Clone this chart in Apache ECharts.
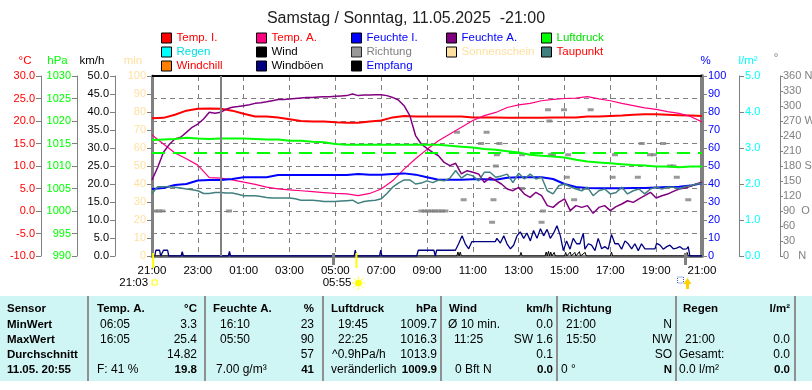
<!DOCTYPE html>
<html><head><meta charset="utf-8">
<script src="https://cdn.jsdelivr.net/npm/echarts@6/dist/echarts.min.js"></script>
<style>html,body{margin:0;padding:0;background:#fff}#c{width:812px;height:390px}</style>
</head><body><div id="c"></div>
<script>
const FONT = "'Liberation Sans', Arial, sans-serif";

// ---------- DATA ----------
const titleText = 'Samstag / Sonntag, 11.05.2025  -21:00';
const xTickLabels = ['21:00','23:00','01:00','03:00','05:00','07:00','09:00','11:00','13:00','15:00','17:00','19:00','21:00'];
const directionLabels = ['0   N','30','60','90  O','120','150','180 S','210','240','270 W','300','330','360 N'];
const hours30 = Array.from({length:49},(_,i)=>i*0.5);   // time grid, hours since 21:00
const hours15 = Array.from({length:97},(_,i)=>i*0.25);

const tempIn = [20.6,20.7,21.4,22.3,22.7,22.8,22.7,22.3,21.6,21.0,21.0,20.8,20.4,20.0,19.9,19.9,19.7,19.6,19.6,19.9,20.1,20.8,21.1,21.0,21.0,21.0,21.0,21.0,20.8,20.8,20.8,20.7,20.7,20.7,20.7,20.8,20.8,20.8,21.0,21.0,21.1,21.2,21.4,21.5,21.5,21.4,21.3,21.2,21.1];
const tempOut = [16.9,14.9,12.9,11.6,10.2,7.4,7.3,6.9,6.4,5.9,5.3,4.9,4.7,4.5,4.3,4.1,3.9,3.8,3.4,3.9,4.9,6.7,9.3,11.6,13.7,15.6,17.1,18.6,20.1,21.2,21.9,23.0,23.6,23.9,24.5,24.8,25.0,25.1,25.4,24.9,24.5,23.9,23.4,22.9,22.6,22.1,21.7,21.0,19.8];
const humIn = [37.2,37.8,39.4,40.0,41.9,42.2,42.2,42.8,43.7,43.7,43.7,45.0,45.0,45.0,45.0,45.0,45.0,45.0,45.6,45.2,45.2,45.6,45.9,45.2,43.7,42.4,42.4,42.4,42.6,42.6,42.4,43.5,43.7,43.7,43.7,42.8,40.0,38.3,37.8,37.6,37.6,37.6,37.8,37.8,38.1,38.3,38.5,39.1,40.4];
const humOut = [42.2,49.3,57.6,61.9,65.0,66.0,68.7,71.5,73.3,76.1,79.8,79.3,79.8,81.7,82.6,83.0,83.5,84.0,84.8,85.2,85.7,86.3,86.9,87.0,87.2,87.5,87.8,88.0,88.1,88.3,88.5,88.5,88.7,88.9,89.1,90.0,89.1,89.4,89.4,89.6,89.6,89.1,88.1,86.7,83.5,78.0,66.9,62.2,59.8,57.6,55.7,52.0,50.2,51.5,45.6,47.4,46.5,45.6,40.9,43.7,41.9,40.0,37.2,36.3,38.1,34.4,32.6,35.4,33.5,28.0,27.0,29.8,31.7,25.2,28.0,27.0,28.0,23.7,27.0,28.0,25.2,27.4,28.9,30.7,29.8,31.7,33.5,35.4,32.2,33.5,34.4,35.9,37.2,37.8,38.7,40.0,41.0];
const dewPoint = [3.9,5.4,5.4,5.4,5.3,5.1,4.9,4.7,4.5,3.9,3.9,4.1,4.1,4.0,4.0,3.7,3.4,3.4,3.4,3.2,3.0,2.9,2.9,2.9,2.9,2.7,2.4,2.4,2.4,2.3,2.1,2.1,2.1,2.2,2.3,2.4,1.7,2.1,2.3,2.4,2.7,3.9,5.3,6.2,6.9,6.9,6.0,6.2,6.7,6.3,6.9,6.7,7.3,9.0,7.3,8.2,7.8,6.7,8.6,8.6,7.5,7.8,8.2,6.3,8.4,7.1,8.2,7.1,7.5,4.5,3.8,5.6,6.0,5.4,4.9,4.5,5.3,3.4,4.5,4.9,3.8,4.1,5.3,3.8,4.5,4.9,3.8,4.9,5.3,4.9,5.3,5.3,4.9,5.4,5.6,6.0,6.1];
const pressure = [1015.8,1015.9,1016.0,1016.3,1016.1,1016.0,1016.1,1016.1,1016.1,1016.0,1015.9,1015.9,1015.6,1015.6,1015.4,1015.3,1014.9,1014.7,1014.7,1014.7,1014.7,1014.7,1014.7,1014.7,1014.7,1014.7,1014.5,1014.3,1014.1,1013.8,1013.6,1013.3,1013.0,1012.5,1012.3,1012.1,1011.9,1011.4,1011.0,1010.8,1010.6,1010.4,1010.2,1010.1,1009.9,1009.9,1009.7,1009.9,1009.9];
const pressureRef = 1013;
const midnightHour = 3;

const gustHours = [0,0.12,0.17,0.33,0.38,0.45,0.5,0.68,0.73,1.27,1.32,1.37,3.33,3.38,3.43,8.82,8.87,8.92,9.93,9.98,10.03,11.55,11.62,12.3,12.36,12.42,13.24,13.38,13.53,13.67,13.82,13.96,14.98,15.05,15.2,15.35,15.49,15.64,15.78,15.93,16.07,16.22,16.36,16.51,16.65,16.8,16.95,17.09,17.24,17.38,17.53,17.67,17.75,17.82,17.89,17.95,18.09,18.24,18.38,18.53,18.67,18.82,18.89,19.04,19.18,19.33,19.47,19.62,19.76,19.91,20.05,20.2,20.35,20.49,20.64,20.78,20.93,21.07,21.22,21.36,21.51,21.95,22.02,22.17,22.31,22.46,22.6,22.75,22.89,23.04,23.18,23.33,23.4,23.47,24];
const gustKmh  = [0,0,1.6,1.6,0,0,1.6,1.6,0,0,1.2,0,0,1.3,0,0,1.6,0,0,1.6,0,0,1.6,1.6,0,1.6,1.6,3.4,5.6,3.4,2.0,4.0,4.0,4.9,3.6,5.6,3.4,2.0,3.0,5.6,6.7,4.9,6.4,4.2,7.1,4.9,7.6,5.6,7.4,4.9,6.4,8.4,8.8,5.6,3.4,1.5,4.2,1.9,4.9,3.4,3.4,6.3,1.9,3.4,3.0,1.5,4.9,2.0,2.6,1.9,6.0,3.4,3.4,1.9,4.2,3.4,2.0,3.4,1.5,3.4,2.0,2.0,3.5,3.0,1.9,2.6,3.0,2.0,2.2,2.6,1.9,2.0,2.6,0,0];

const windHours = [0,13.3,13.35,13.4,13.45,13.5,16.05,16.1,16.15,17.15,17.2,17.25,17.3,17.35,17.4,17.45,17.55,17.6,18.0,18.05,18.1,18.25,18.3,18.45,18.5,18.65,18.7,18.9,18.95,20.0,20.05,20.1,23.3,23.35,23.4,24];
const windKmh  = [0,0,1.1,0,1.1,0,0,1.0,0,0,1.1,0,1.3,0,1.1,0,1.0,0,0,1.0,0,1.1,0,1.0,0,1.2,0,1.0,0,0,1.1,0,0,1.0,0,0];

const dirHours = [0.15,0.3,0.45,3.36,11.75,11.9,12.05,12.2,12.35,12.5,12.65,12.8,13.31,13.6,14.36,14.6,14.84,14.9,15.0,15.05,15.16,16.15,16.15,17.0,17.06,17.28,17.34,17.4,17.5,18.1,17.98,18.16,18.42,18.9,19.14,20.1,20.2,21.2,21.37,21.73,21.9,22.3,22.6,22.75,22.9,23.4];
const dirDeg   = [90,90,90,90,90,90,90,90,90,90,90,90,247.5,112.5,225,247.5,67.5,112.5,180,202.5,225,202.5,135,67.5,90,292.5,270,202.5,202.5,157.5,292.5,202.5,112.5,135,292.5,157.5,202.5,157.5,225,202.5,202.5,225,180,180,157.5,112.5];

const receptionHours = [0,24];
const receptionPct = [100,100];

const sunEvents = [{hour:0.05,label:'21:03',icon:'moon'},{hour:8.92,label:'05:55',icon:'sun'}];
const twilightHours = [7.92,23.28];

const tableRowLabels = ['Sensor','MinWert','MaxWert','Durchschnitt','11.05. 20:55'];
const tableHeaders = ['Temp. A.','Feuchte A.','Luftdruck','Wind','Richtung','Regen'];
const tableUnits = ['°C','%','hPa','km/h','','l/m²'];
const tableLeft = [
 ['06:05','16:05','','F: 41 %'],
 ['16:10','05:50','','7.00 g/m³'],
 ['19:45','22:25','^0.9hPa/h','veränderlich'],
 ['Ø 10 min.','11:25','','0 Bft N'],
 ['21:00','15:50','','0 °'],
 ['','21:00','Gesamt:','0.0 l/m²']
];
const tableRight = [
 ['3.3','25.4','14.82','19.8'],
 ['23','90','57','41'],
 ['1009.7','1016.3','1013.9','1009.9'],
 ['0.0','SW 1.6','0.1','0.0'],
 ['N','NW','SO','N'],
 ['','0.0','0.0','0.0']
];

// ---------- LAYOUT / STYLE ----------
const tableSeps = [88,205,323,441,557,676,795];
const headIndent = [9,8,8,8,5,7];
const cellIndent = [[12,12,12,9],[15,15,15,11],[15,15,9,8],[7,13,13,14],[9,9,9,4],[9,9,3,3]];
const rightPad = [8,9,4,4,4,5];
const rowY = [309,324.5,340,355,370];
const legendCols = [161,256,351,446,541];
const AX_FS = 11;

const pair = (xs, ys) => ys.map((v,i)=>[xs[i], v]);

const chart = echarts.init(document.getElementById('c'), null, {renderer:'canvas'});

const baseY = {
  type:'value',
  axisLine:{show:true, onZero:false, lineStyle:{color:'#808080', width:1}},
  axisTick:{show:true, length:5, lineStyle:{color:'#808080'}},
  splitLine:{show:false},
  axisLabel:{fontSize:AX_FS, fontFamily:FONT, margin:6}
};
function yAx(o){ return Object.assign({}, baseY, o, {
  axisLabel:Object.assign({}, baseY.axisLabel, o.axisLabel||{}),
  axisLine:Object.assign({}, baseY.axisLine, o.axisLine||{}),
  axisTick:Object.assign({}, baseY.axisTick, o.axisTick||{})
});}

const legendCommon = {
  orient:'vertical', top:31, itemWidth:10, itemHeight:10, itemGap:0, icon:'rect',
  selectedMode:false, padding:0,
  itemStyle:{borderColor:'#000', borderWidth:1},
  textStyle:{fontSize:11.5, fontFamily:FONT, lineHeight:14}
};
const li = (name,color)=>({name, textStyle:{color}});
const legendItems = [
  [li('Temp. I.','#ff0000'), li('Regen','#00e0e0'), li('Windchill','#ff0000')],
  [li('Temp. A.','#ff0000'), li('Wind','#000000'), li('Windböen','#000000')],
  [li('Feuchte I.','#0000ff'), li('Richtung','#808080'), li('Empfang','#0000ff')],
  [li('Feuchte A.','#0000ff'), li('Sonnenschein','#ffe0a0')],
  [li('Luftdruck','#00e000'), li('Taupunkt','#ff0000')]
];

const lineS = (name, color, yIdx, data, width) => ({
  name, type:'line', yAxisIndex:yIdx, color, data, symbol:'none', showSymbol:false,
  lineStyle:{color, width}, silent:true, animation:false, emphasis:{disabled:true}, z:3
});

const option = {
  animation:false,
  backgroundColor:'#ffffff',
  title:{text:titleText, left:'center', top:6, textStyle:{fontSize:16, fontWeight:'normal', color:'#202020', fontFamily:FONT}},
  legend: legendItems.map((items,i)=>Object.assign({}, legendCommon, {left:legendCols[i], data:items})),
  grid:{left:152, right:110, top:76, bottom:134, outerBoundsMode:'none', containLabel:false},
  xAxis:{
    type:'value', min:0, max:24, interval:2,
    axisLine:{show:true, onZero:false, lineStyle:{color:'#808080', width:3}},
    axisTick:{show:false},
    axisLabel:{color:'#000', fontSize:AX_FS+0.5, fontFamily:FONT, margin:9, formatter:(v)=>xTickLabels[Math.round(v/2)]},
    splitLine:{show:true, lineStyle:{color:'#808080', type:[5,4], width:1}}
  },
  yAxis:[
    yAx({position:'left', offset:111, min:-10, max:30, interval:5,
      axisLabel:{color:'#ff0000', formatter:v=>v.toFixed(1)},
      splitLine:{show:true, lineStyle:{color:'#808080', type:[5,4], width:1}}}),
    yAx({position:'left', offset:75, min:990, max:1030, interval:5, axisLabel:{color:'#00ff00', formatter:v=>String(v)}}),
    yAx({position:'left', offset:37, min:0, max:50, interval:5, axisLabel:{color:'#000000', formatter:v=>v.toFixed(1)}}),
    yAx({position:'left', offset:0, min:0, max:100, interval:10, axisLabel:{color:'#ffe0a0'},
      axisLine:{lineStyle:{color:'#808080', width:3}}}),
    yAx({position:'right', offset:0, min:0, max:100, interval:10, axisLabel:{color:'#0000ff'},
      axisLine:{lineStyle:{color:'#808080', width:4}}}),
    yAx({position:'right', offset:37, min:0, max:5, interval:1, axisLabel:{color:'#00ffff', formatter:v=>v.toFixed(1)}}),
    yAx({position:'right', offset:78, min:0, max:360, interval:30, axisTick:{length:3}, axisLabel:{color:'#808080', margin:3, formatter:(v)=>directionLabels[Math.round(v/30)]}})
  ],
  series:[
    Object.assign(lineS('Temp. I.','#ff0000',0,pair(hours30,tempIn),2), {
      markLine:{silent:true, symbol:'none', label:{show:false}, animation:false,
        lineStyle:{color:'#808080', type:'solid', width:2}, data:[{xAxis:midnightHour}]}}),
    lineS('Temp. A.','#ff0080',0,pair(hours30,tempOut),1.2),
    lineS('Feuchte I.','#0000ff',4,pair(hours30,humIn),2),
    lineS('Feuchte A.','#800080',4,pair(hours15,humOut),1.5),
    Object.assign(lineS('Luftdruck','#00ff00',1,pair(hours30,pressure),2), {
      markLine:{silent:true, symbol:'none', label:{show:false}, animation:false,
        lineStyle:{color:'#00ff00', type:[13,8], width:2}, data:[{yAxis:pressureRef}]}}),
    lineS('Regen','#00ffff',5,[],1),
    lineS('Wind','#000000',2,pair(windHours,windKmh),1),
    {name:'Richtung', type:'scatter', yAxisIndex:6, color:'#808080', symbol:'rect', symbolSize:[6,3],
      data:pair(dirHours,dirDeg), silent:true, animation:false, itemStyle:{color:'#808080'}, z:2},
    lineS('Sonnenschein','#ffe0a0',3,[],1),
    lineS('Taupunkt','#408080',0,pair(hours15,dewPoint),1.5),
    lineS('Windchill','#ff8000',0,[],1),
    lineS('Windböen','#000080',2,pair(gustHours,gustKmh),1.3),
    lineS('Empfang','#000000',4,pair(receptionHours,receptionPct),2)
  ]
};
chart.setOption(option);

// ---------- graphic overlays (axis names, sun events, table) ----------
const xpx = h => chart.convertToPixel({xAxisIndex:0}, h);
const yBottom = chart.convertToPixel({yAxisIndex:4}, 0);
const g = [];
const txt = (x,y,text,fill,align,bold,size) => ({type:'text', x, y, silent:true, z:100,
  style:{text, fill, align:align||'left', verticalAlign:'middle', font:(bold?'bold ':'')+(size||12)+'px '+FONT}});

// axis names
g.push(txt(25,61,'°C','#ff0000','center',false,11.5));
g.push(txt(57.5,61,'hPa','#00ff00','center',false,11.5));
g.push(txt(92,61,'km/h','#000000','center',false,11.5));
g.push(txt(133,61,'min','#ffe0a0','center',false,11.5));
g.push(txt(705.5,61,'%','#0000ff','center',false,11.5));
g.push(txt(748,61,'l/m²','#00ffff','center',false,11.5));
g.push(txt(776,58,'°','#808080','center',false,11.5));

// twilight ticks
twilightHours.forEach(h=>{
  const x = xpx(h);
  g.push({type:'line', silent:true, z:50, shape:{x1:x,y1:yBottom-3,x2:x,y2:yBottom+9}, style:{stroke:'#808080', lineWidth:3}});
});
// sun / moon events
sunEvents.forEach(ev=>{
  const x = xpx(ev.hour);
  g.push({type:'line', silent:true, z:51, shape:{x1:x,y1:yBottom-3,x2:x,y2:yBottom+12}, style:{stroke:'#ffff00', lineWidth:2}});
  g.push(txt(x-5,283,ev.label,'#000000','right',false,11.5));
  if(ev.icon==='sun'){
    g.push({type:'circle', silent:true, z:51, shape:{cx:x+2,cy:283,r:3.5}, style:{fill:'#ffff00'}});
    for(let k=0;k<8;k++){const a=k*Math.PI/4;
      g.push({type:'line', silent:true, z:51, shape:{x1:x+2+Math.cos(a)*4.5,y1:283+Math.sin(a)*4.5,x2:x+2+Math.cos(a)*6.5,y2:283+Math.sin(a)*6.5}, style:{stroke:'#ffff00', lineWidth:1}});}
  } else {
    g.push({type:'rect', silent:true, z:51, shape:{x:x-1,y:280,width:5,height:5}, style:{fill:'none', stroke:'#ffff00', lineWidth:1}});
  }
});
{ const x = xpx(twilightHours[1]);
  g.push({type:'rect', silent:true, z:51, shape:{x:x-8,y:277,width:6,height:6}, style:{fill:'none', stroke:'#4060c0', lineWidth:1, lineDash:[1,1]}});
  g.push({type:'polygon', silent:true, z:52, shape:{points:[[x+2,278],[x+6,284],[x+3.5,284],[x+3.5,289],[x+0.5,289],[x+0.5,284],[x-2,284]]}, style:{fill:'#ffd000'}});
}

// table
g.push({type:'rect', silent:true, z:90, shape:{x:0,y:296,width:812,height:85}, style:{fill:'#d0f5f5'}});
tableSeps.forEach(x=>g.push({type:'line', silent:true, z:91, shape:{x1:x,y1:296,x2:x,y2:381}, style:{stroke:'#909090', lineWidth:2}}));
tableRowLabels.forEach((t,r)=>g.push(txt(7,rowY[r],t,'#000000','left',true,11.5)));
tableHeaders.forEach((t,c)=>{
  g.push(txt(tableSeps[c]+headIndent[c],rowY[0],t,'#000000','left',true,11.5));
  g.push(txt(tableSeps[c+1]-rightPad[c],rowY[0],tableUnits[c],'#000000','right',true,11.5));
  for(let r=0;r<4;r++){
    g.push(txt(tableSeps[c]+cellIndent[c][r],rowY[r+1],tableLeft[c][r],'#000000','left',false,12));
    g.push(txt(tableSeps[c+1]-rightPad[c],rowY[r+1],tableRight[c][r],'#000000','right',r===3,r===3?11.5:12));
  }
});
chart.setOption({graphic:g});
</script></body></html>
